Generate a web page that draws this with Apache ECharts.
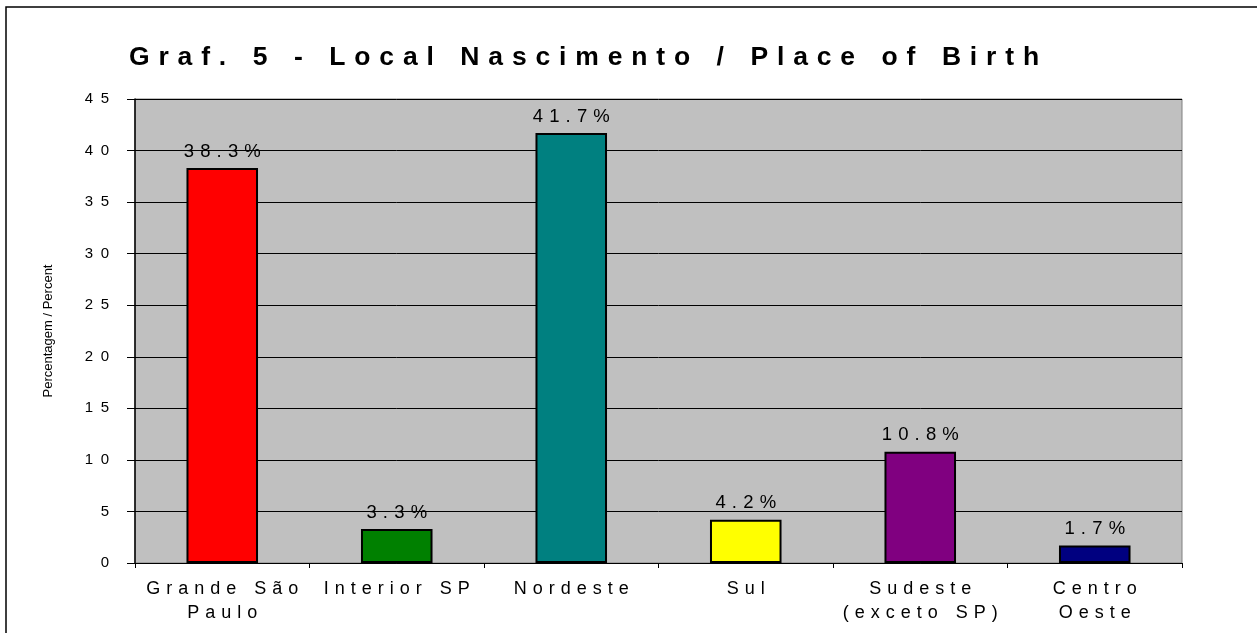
<!DOCTYPE html>
<html lang="pt-BR">
<head>
  <meta charset="UTF-8">
  <title>Graf. 5 - Local Nascimento</title>
  <script src="https://cdn.jsdelivr.net/npm/echarts@6/dist/echarts.min.js"></script>
  <style>
    html, body { margin: 0; padding: 0; background: #fff; }
    #chart { width: 1257px; height: 633px; }
  </style>
</head>
<body>
  <div id="chart"></div>
  <script>
    // dados
    const categorias = ['Grande São\nPaulo', 'Interior SP', 'Nordeste', 'Sul', 'Sudeste\n(exceto SP)', 'Centro\nOeste'];
    const valores = [38.3, 3.3, 41.7, 4.2, 10.8, 1.7];
    const cores = ['#FF0000', '#008000', '#008080', '#FFFF00', '#800080', '#000080'];
    const titulo = 'Graf. 5 - Local Nascimento / Place of Birth';
    const nomeEixoY = 'Percentagem / Percent';

    // texto espaçado letra a letra, como no original
    const ESP_LETRA = '\u2004';        // três-por-eme
    const ESP_PALAVRA = '\u2002\u2002'; // dois meio-emes
    function espacar(s, letra, palavra) {
      letra = letra || ESP_LETRA;
      palavra = palavra || ESP_PALAVRA;
      return s.split('\n').map(linha =>
        linha.split(' ').map(p => p.split('').join(letra)).join(palavra)
      ).join('\n');
    }

    const fonte = '"Liberation Sans", Arial, sans-serif';
    const chart = echarts.init(document.getElementById('chart'));

    const option = {
      backgroundColor: '#fff',
      animation: false,
      title: {
        text: espacar(titulo),
        left: 129,
        top: 44,
        padding: 0,
        textStyle: { fontFamily: fonte, fontSize: 26.5, fontWeight: 'bold', color: '#000' }
      },
      graphic: [{
        type: 'rect',
        shape: { x: 6, y: 7, width: 1300, height: 700 },
        style: { fill: 'none', stroke: '#000', lineWidth: 1.5 },
        silent: true
      }],
      grid: {
        left: 135, top: 99, right: 75, bottom: 70,
        show: true,
        backgroundColor: '#C0C0C0',
        borderColor: '#808080',
        borderWidth: 1
      },
      xAxis: {
        type: 'category',
        data: categorias,
        boundaryGap: true,
        axisLine: { lineStyle: { color: '#000', width: 1 } },
        axisTick: { show: true, length: 5, lineStyle: { color: '#000' } },
        axisLabel: {
          interval: 0,
          margin: 14,
          lineHeight: 24,
          fontFamily: fonte,
          fontSize: 18,
          color: '#000',
          formatter: v => espacar(v)
        }
      },
      yAxis: {
        type: 'value',
        min: 0, max: 45, interval: 5,
        name: nomeEixoY,
        nameLocation: 'middle',
        nameRotate: 90,
        nameGap: 80,
        nameTextStyle: { fontFamily: fonte, fontSize: 13, color: '#000' },
        axisLine: { show: true, lineStyle: { color: '#000', width: 1.5 } },
        axisTick: { show: true, length: 8, lineStyle: { color: '#000' } },
        axisLabel: {
          margin: 26,
          fontFamily: fonte,
          fontSize: 15,
          color: '#000',
          formatter: v => String(v).split('').join('\u2002')
        },
        splitLine: { show: true, lineStyle: { color: '#000', width: 1 } }
      },
      series: [{
        type: 'bar',
        barWidth: '41%',
        data: valores.map((v, i) => ({
          value: v,
          itemStyle: { color: cores[i], borderColor: '#000', borderWidth: 2 }
        })),
        label: {
          show: true,
          position: 'top',
          distance: 7,
          fontFamily: fonte,
          fontSize: 18.5,
          color: '#000',
          formatter: p => espacar(p.value.toFixed(1) + '%')
        }
      }]
    };

    chart.setOption(option);
  </script>
</body>
</html>
